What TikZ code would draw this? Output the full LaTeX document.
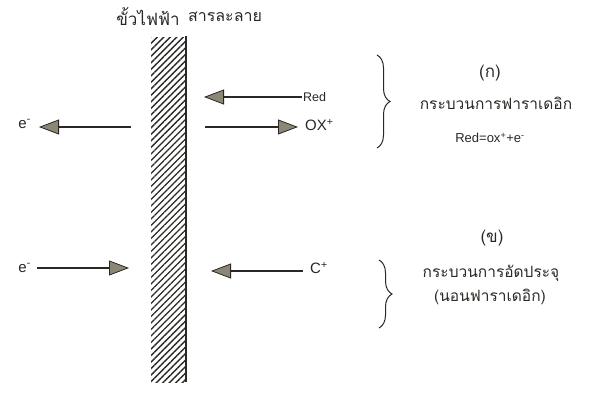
\documentclass[tikz,border=0pt]{standalone}
\usepackage{fontspec}
\setmainfont{Liberation Sans}
\newfontfamily\thai[Script=Thai]{Loma}
\usetikzlibrary{arrows.meta,patterns.meta,decorations.pathreplacing}
\definecolor{ink}{HTML}{2A2824}
\definecolor{headfill}{HTML}{8C8676}
\tikzset{
  arr/.style={draw=ink, line width=1.8pt,
    -{Triangle[length=20pt,width=15pt,fill=headfill,line width=0.8pt]}},
  lbl/.style={inner sep=1pt, text=ink, font=\fontsize{15}{17}\selectfont},
  thaitext/.style={inner sep=1pt, text=ink, font=\thai\fontsize{15.5}{18}\selectfont},
  bigthai/.style={thaitext, font=\thai\fontsize{17}{20}\selectfont},
  bracestyle/.style={draw=ink, line width=1pt, decorate,
    decoration={brace, amplitude=13pt}}
}
\begin{document}
\begin{tikzpicture}[x=1pt,y=-1pt]
  \useasboundingbox (0,0) rectangle (592,396);

  % electrode: hatched bar with a solid face towards the solution
  \fill[pattern={Lines[angle=45,distance=4.6pt,line width=1.3pt]},pattern color=ink]
    (151,38) rectangle (186,382);
  \draw[ink, line width=2pt] (186,36) -- (186,382);

  % headings
  \node[bigthai] (electrode) at (148,17) {ขั้วไฟฟ้า};
  \node[bigthai, font=\thai\fontsize{16}{19}\selectfont] (solution) at (225,17) {สารละลาย};

  % Faradaic process
  \node[lbl, anchor=west, font=\fontsize{12.5}{14}\selectfont] (red) at (302,97) {Red};
  \coordinate (redtip) at (204,97);
  \draw[arr] (red.west) -- (redtip);

  \node[lbl, anchor=east] (e1) at (32,124) {e\textsuperscript{-}};
  \coordinate (e1start) at (131,127);
  \coordinate (e1tip) at (39,127);
  \draw[arr] (e1start) -- (e1tip);

  \node[lbl, anchor=west] (ox) at (304,125) {OX\textsuperscript{+}};
  \coordinate (oxstart) at (205,127);
  \coordinate (oxtip) at (298,127);
  \draw[arr] (oxstart) -- (oxtip);

  % non-Faradaic (charging) process
  \node[lbl, anchor=east] (e2) at (32,268) {e\textsuperscript{-}};
  \coordinate (e2start) at (37,268);
  \coordinate (e2tip) at (129,268);
  \draw[arr] (e2start) -- (e2tip);

  \node[lbl, anchor=west] (cion) at (309,268) {C\textsuperscript{+}};
  \coordinate (cstart) at (303,271);
  \coordinate (ctip) at (211,271);
  \draw[arr] (cstart) -- (ctip);

  % braces
  \coordinate (b1top) at (377,55);
  \coordinate (b1bot) at (377,148);
  \draw[bracestyle] (b1top) -- (b1bot);
  \coordinate (b2top) at (379,260);
  \coordinate (b2bot) at (379,328);
  \draw[bracestyle] (b2top) -- (b2bot);

  % process descriptions
  \node[bigthai] (ka) at (490,73) {(ก)};
  \node[thaitext] (far) at (496,103) {กระบวนการฟาราเดอิก};
  \node[lbl, font=\fontsize{13}{15}\selectfont] (eq) at (490,138)
    {Red=ox\textsuperscript{+}+e\textsuperscript{-}};

  \node[bigthai] (kho) at (492,238) {(ข)};
  \node[thaitext] (chg) at (491,273) {กระบวนการอัดประจุ};
  \node[thaitext] (nonf) at (490,297) {(นอนฟาราเดอิก)};
\end{tikzpicture}
\end{document}
